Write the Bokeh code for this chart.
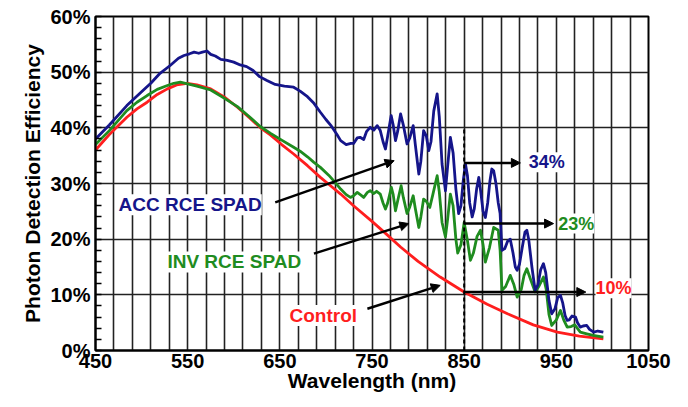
from bokeh.plotting import figure
from bokeh.models import (Range1d, FixedTicker, Label, Arrow, NormalHead)
from bokeh.embed import file_html
from bokeh.resources import INLINE

# ---------------- data ----------------
acc_wl = [450, 465, 484, 500, 510, 520, 531, 540, 546, 552, 557, 562, 566, 571, 575,
          580, 586, 593, 600, 607, 614, 621, 628, 636, 645, 655, 665, 672, 680, 687,
          694, 700, 706, 712, 716, 722, 727, 730, 734, 737, 741, 744, 748, 752, 755.6,
          759, 762, 764.6, 767, 770.8, 773, 775.5, 778, 781, 784, 788, 791, 794.7, 797,
          800.8, 803, 806, 809, 811.6, 814, 817, 820.7, 823, 826, 829.7, 832, 835, 838,
          841, 844, 846.5, 849, 851.4, 853.5, 856, 858.7, 861, 863.5, 865.9, 868, 870.5,
          873, 875.5, 878, 880, 882, 884.5, 887, 889, 891, 894, 897, 900, 903, 905.5, 907.5,
          910, 913, 916, 918, 920, 923.5, 927, 930, 933, 936, 938.5, 942, 945, 948.5, 951.5,
          954.5, 957, 959.5, 961.8, 964, 967, 970.8, 973, 976, 979, 983, 986, 990.6, 995, 1001]
acc_pde = [38.0, 40.5, 44.0, 46.5, 48.0, 49.8, 51.2, 52.5, 53.0, 53.3, 53.6, 53.4, 53.6, 53.8, 53.2,
           52.9, 52.3, 52.1, 51.8, 51.3, 51.0, 50.3, 49.2, 48.5, 47.8, 47.5, 47.3, 46.6, 45.6, 44.4,
           42.8, 41.5, 40.3, 38.8, 37.7, 37.0, 37.2, 37.2, 38.2, 38.3, 37.9, 39.3, 40.1, 39.6, 40.4,
           39.5, 37.5, 36.2, 38.5, 42.2, 40.5, 37.7, 39.5, 42.5, 40.5, 37.1, 38.2, 40.4, 37.0,
           31.7, 34.0, 39.5, 38.5, 35.9, 37.5, 43.0, 46.1, 42.0, 33.5, 28.7, 33.0, 38.3, 35.5,
           29.0, 24.6, 26.0, 30.5, 33.5, 31.5, 26.5, 24.0, 25.5, 29.0, 31.1, 28.5, 25.0,
           23.9, 26.5, 30.5, 32.6, 32.3, 30.0, 26.5, 24.6, 18.0, 18.3, 19.6, 20.0, 17.5, 15.0, 14.4,
           15.5, 18.5, 21.3, 21.6, 20.0, 15.0, 10.8, 11.8, 14.5, 15.6, 14.0, 9.0, 6.6, 7.5, 9.5,
           9.9, 8.5, 6.3, 5.4, 5.5, 6.2, 6.0, 5.0, 4.2, 4.4, 4.5, 3.8, 3.3, 3.5, 3.3]

inv_wl = [450, 465, 484, 495, 506, 517, 528, 535, 542, 550, 560, 575, 590, 604, 617,
          629, 640, 652, 665, 672, 680, 687, 694, 703, 710, 716, 722, 726.6, 730, 734,
          738, 741, 745, 748, 752, 755, 759, 762, 764.6, 767, 771, 773, 775.5, 778, 781.6,
          784, 788, 791, 794.7, 797, 800.8, 803, 806, 809, 812.7, 816, 820.7, 823, 826,
          829.7, 832, 835, 838, 841, 843, 846.5, 850, 853.5, 856.8, 860, 864, 867.7, 870.5,
          873, 877.5, 882, 887, 889, 891, 895, 900, 904, 907.5, 912, 915, 918, 922,
          927, 931, 936, 939, 942, 945, 950, 954.5, 958, 961.8, 966, 970, 976, 983, 990, 1001]
inv_pde = [37.0, 39.5, 43.1, 44.6, 45.8, 46.9, 47.6, 48.0, 48.2, 47.9, 47.5, 46.8, 45.3, 43.8, 42.0,
           40.2, 39.0, 37.8, 36.5, 35.8, 34.8, 33.8, 32.9, 31.5, 30.2, 29.0, 28.0, 27.5, 27.8, 28.4,
           27.9, 27.5, 28.4, 28.7, 28.2, 28.6, 28.1, 26.5, 25.4, 26.5, 29.3, 28.0, 25.1, 27.0, 29.6,
           27.5, 24.6, 25.8, 27.8, 25.5, 22.1, 24.0, 27.2, 26.8, 25.7, 28.0, 31.4, 28.5, 23.0,
           20.4, 23.5, 28.1, 26.0, 20.0, 17.5, 19.0, 23.0, 19.8, 16.2, 17.5, 20.5, 21.6, 19.0,
           15.9, 18.5, 22.1, 21.6, 18.0, 10.8, 11.5, 13.5, 11.8, 9.6, 11.0, 13.5, 14.7, 12.8,
           10.5, 11.5, 13.2, 11.0, 6.5, 4.5, 5.5, 7.2, 5.5, 4.2, 4.3, 4.6, 3.3, 3.0, 2.7, 2.4]

ctl_wl = [450, 465, 484, 495, 506, 517, 528, 538, 549.5, 560, 575, 590, 604, 617, 629,
          640, 652, 665, 680, 694, 705, 716, 730, 750, 765, 781, 800, 824, 850, 875,
          897, 925, 951, 975, 1001]
ctl_pde = [36.0, 38.8, 41.9, 43.4, 44.6, 46.0, 47.0, 47.7, 48.0, 47.7, 47.0, 45.5, 43.7, 41.8, 40.0,
           38.7, 37.0, 35.3, 33.2, 31.1, 29.6, 28.1, 26.0, 23.2, 21.0, 18.6, 16.0, 13.2, 10.5, 8.3,
           6.6, 4.6, 3.3, 2.6, 2.1]

x_ticks = [450, 550, 650, 750, 850, 950, 1050]
x_grid = list(range(470, 1050, 20))
y_ticks = [0, 10, 20, 30, 40, 50, 60]
y_tick_labels = ["0%", "10%", "20%", "30%", "40%", "50%", "60%"]
y_minor = list(range(0, 61, 2))

marker_wl = 850
marker_values = [33.7, 22.8, 10.5]
marker_labels = ["34%", "23%", "10%"]

BLUE = "#15158a"
GREEN = "#1f8c1f"
RED = "#ff1e1e"
FONT = "Liberation Sans"

p = figure(width=680, height=399, output_backend="svg", toolbar_location=None,
           x_range=Range1d(450, 1050), y_range=Range1d(0, 60),
           min_border_left=95, min_border_right=32, min_border_top=16, min_border_bottom=49)
p.background_fill_color = "white"
p.border_fill_color = "white"
p.outline_line_color = "black"
p.outline_line_width = 2
p.outline_line_alpha = 1

# axes
for ax in (p.xaxis[0], p.yaxis[0]):
    ax.axis_line_width = 2
    ax.axis_line_color = "black"
    ax.major_label_text_font = FONT
    ax.major_label_text_font_style = "bold"
    ax.major_label_text_font_size = "20px"
    ax.major_label_text_color = "black"
    ax.axis_label_text_font = FONT
    ax.axis_label_text_font_style = "bold"
    ax.axis_label_text_font_size = "21px"
    ax.axis_label_text_color = "black"
    ax.major_tick_in = 0
    ax.major_tick_out = 0

p.xaxis.ticker = FixedTicker(ticks=x_ticks)
p.xaxis.minor_tick_in = 0
p.xaxis.minor_tick_out = 0
p.xaxis.axis_label = "Wavelength (nm)"
p.xaxis.major_label_standoff = 3
p.xaxis.axis_label_standoff = -2

p.yaxis.ticker = FixedTicker(ticks=y_ticks, minor_ticks=y_minor)
p.yaxis.major_label_overrides = {t: l for t, l in zip(y_ticks, y_tick_labels)}
p.yaxis.minor_tick_in = 6
p.yaxis.minor_tick_out = 0
p.yaxis.minor_tick_line_width = 1.5
p.yaxis.minor_tick_line_color = "black"
p.yaxis.axis_label = "Photon Detection Efficiency"
p.yaxis.major_label_standoff = 5
p.yaxis.axis_label_standoff = 3

# grid
p.xgrid.ticker = FixedTicker(ticks=x_grid)
p.xgrid.grid_line_color = "#222222"
p.xgrid.grid_line_width = 1.6
p.ygrid.grid_line_color = "#222222"
p.ygrid.grid_line_width = 1.6

# curves
p.line(ctl_wl, ctl_pde, line_color=RED, line_width=2.8, line_join="round")
p.line(inv_wl, inv_pde, line_color=GREEN, line_width=2.8, line_join="round")
p.line(acc_wl, acc_pde, line_color=BLUE, line_width=2.8, line_join="round")

# dashed marker at 850 nm
p.segment(x0=[marker_wl], y0=[0], x1=[marker_wl], y1=[40], line_color="black",
          line_width=2, line_dash="4 3")

# labels
def add_label(x, y, text, color, size):
    p.add_layout(Label(x=x, y=y, text=text, text_color=color, text_font=FONT,
                       text_font_style="bold", text_font_size=size,
                       text_baseline="middle", text_align="left",
                       background_fill_color="white", background_fill_alpha=1.0))

add_label(475, 26.2, "ACC RCE SPAD", BLUE, "19px")
add_label(528, 15.9, "INV RCE SPAD", GREEN, "19px")
add_label(660.5, 6.3, "Control", RED, "19px")

# pointer arrows
def add_arrow(x0, y0, x1, y1):
    p.add_layout(Arrow(x_start=x0, y_start=y0, x_end=x1, y_end=y1,
                       line_color="black", line_width=2.5,
                       end=NormalHead(size=9, fill_color="black", line_color="black")))

add_arrow(645, 26.6, 774, 34.1)
add_arrow(687, 17.4, 790, 22.8)
add_arrow(745, 7.5, 824, 11.7)

# horizontal arrows from 850 nm with values
arrow_ends = [911, 947, 982]
label_x = [920, 952, 992.5]
label_y = [33.8, 22.8, 11.2]
colors = [BLUE, GREEN, RED]
for v, xe, lx, ly, t, c in zip(marker_values, arrow_ends, label_x, label_y, marker_labels, colors):
    add_arrow(marker_wl, v, xe, v)
    add_label(lx, ly, t, c, "18px")

open("out.html", "w").write(file_html(p, INLINE))
